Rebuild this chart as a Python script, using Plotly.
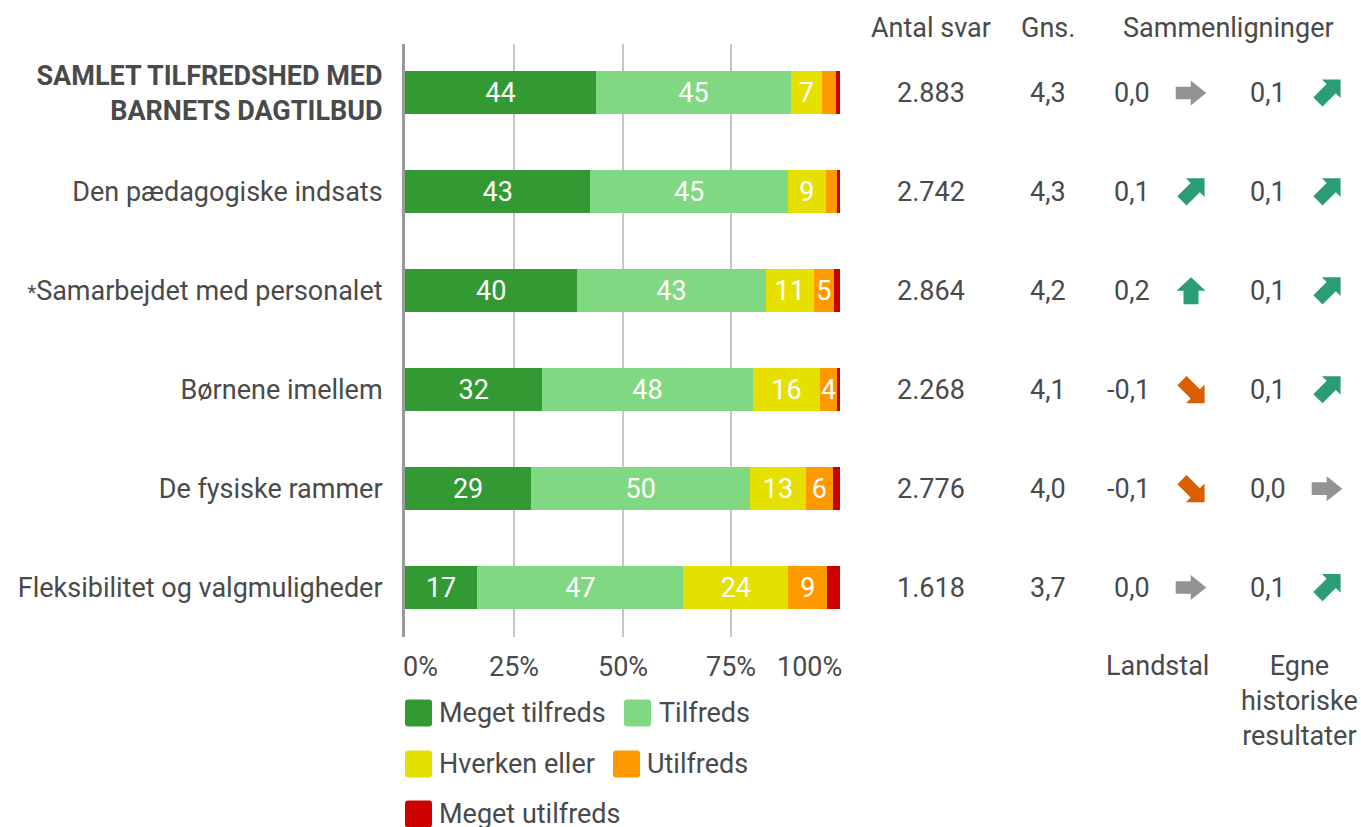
import math
import plotly.graph_objects as go

# ---------------- data ----------------
categories = [
    "SAMLET TILFREDSHED MED BARNETS DAGTILBUD",
    "Den pædagogiske indsats",
    "*Samarbejdet med personalet",
    "Børnene imellem",
    "De fysiske rammer",
    "Fleksibilitet og valgmuligheder",
]
category_ticktext = [
    "<b>SAMLET TILFREDSHED MED<br>BARNETS DAGTILBUD</b>",
    "Den pædagogiske indsats",
    "<span style='font-size:20px'>*</span>Samarbejdet med personalet",
    "Børnene imellem",
    "De fysiske rammer",
    "Fleksibilitet og valgmuligheder",
]
series_names = ["Meget tilfreds", "Tilfreds", "Hverken eller", "Utilfreds", "Meget utilfreds"]
meget_tilfreds = [43.9, 42.6, 39.6, 31.6, 29.0, 16.6]
tilfreds = [44.8, 45.4, 43.3, 48.3, 50.4, 47.4]
hverken_eller = [7.1, 8.8, 11.1, 15.6, 12.7, 24.1]
utilfreds = [3.2, 2.5, 4.6, 3.7, 6.3, 9.0]
meget_utilfreds = [1.0, 0.7, 1.4, 0.8, 1.6, 2.9]

antal_svar = ["2.883", "2.742", "2.864", "2.268", "2.776", "1.618"]
gns = [4.3, 4.3, 4.2, 4.1, 4.0, 3.7]
landstal_diff = [0.0, 0.1, 0.2, -0.1, -0.1, 0.0]
historisk_diff = [0.1, 0.1, 0.1, 0.1, 0.0, 0.1]

x_tickvals = [0, 25, 50, 75, 100]
x_ticktext = ["0%", "25%", "50%", "75%", "100%"]

# ---------------- styling ----------------
W, H = 1361, 827
FONT = "Roboto"
TXT = "#4a4a4a"
colors = ["#339933", "#80d982", "#e6e000", "#ff9900", "#cc0000"]
FS = 27

X0, X1 = 405, 840            # pixel extent of the 0..100 % axis
Y_TOP, Y_BOT = 43.5, 637.0   # pixel extent of the category axis
ydom = [1 - Y_BOT / H, 1 - Y_TOP / H]


def px(xp):
    return xp / W


def fmt(v):
    s = f"{v:.1f}".replace(".", ",")
    if s == "-0,0":
        s = "0,0"
    return s


fig = go.Figure()
series = [meget_tilfreds, tilfreds, hverken_eller, utilfreds, meget_utilfreds]
for name, vals, col in zip(series_names, series, colors):
    fig.add_trace(go.Bar(
        name=name, y=categories, x=vals, orientation="h",
        marker=dict(color=col, line=dict(width=0)),
        text=[str(int(round(v))) if v >= 3.5 else "" for v in vals],
        textposition="inside", insidetextanchor="middle", textangle=0,
        textfont=dict(family=FONT, size=FS, color="white"),
        constraintext="none", showlegend=False, hoverinfo="x+y+name",
    ))

annotations = []
# x tick labels
for v, t in zip(x_tickvals, x_ticktext):
    anchor = "left" if v == x_tickvals[0] else ("right" if v == x_tickvals[-1] else "center")
    xs = -4 if anchor == "left" else (4 if anchor == "right" else 0)
    annotations.append(dict(x=v, y=ydom[0], xref="x", yref="paper", text=t, showarrow=False,
                            xanchor=anchor, yanchor="middle", yshift=-30, xshift=xs,
                            font=dict(family=FONT, size=FS, color=TXT)))

# column headers
for text, xc in [("Antal svar", 931), ("Gns.", 1048), ("Sammenligninger", 1228)]:
    annotations.append(dict(x=px(xc), y=1 - 28 / H, xref="paper", yref="paper", text=text,
                            showarrow=False, xanchor="center", yanchor="middle",
                            font=dict(family=FONT, size=FS, color=TXT)))
# bottom labels
annotations.append(dict(x=px(1157), y=1 - 666 / H, xref="paper", yref="paper", text="Landstal",
                        showarrow=False, xanchor="center", yanchor="middle",
                        font=dict(family=FONT, size=FS, color=TXT)))
annotations.append(dict(x=px(1299), y=1 - 648 / H, xref="paper", yref="paper",
                        text="Egne<br>historiske<br>resultater", align="center",
                        showarrow=False, xanchor="center", yanchor="top",
                        font=dict(family=FONT, size=FS, color=TXT)))

shapes = []

ARROW_RIGHT = [(-15.3, -6.3), (-0.3, -6.3), (-0.3, -12.5), (15.3, 0), (-0.3, 12.5), (-0.3, 6.3), (-15.3, 6.3)]
ARROW_DIAG = [(-12.8, -6.5), (6.0, -6.5), (6.0, -13.2), (19.2, 0), (6.0, 13.2), (6.0, 6.5), (-12.8, 6.5)]
ARROW_UP = [(-13.5, -7.5), (0.0, -7.5), (0.0, -14.5), (13.5, 0), (0.0, 14.5), (0.0, 7.5), (-13.5, 7.5)]


def arrow_shape(xc, cat, value):
    if abs(value) < 0.05:
        ang, col, pts = 0, "#939393", ARROW_RIGHT
    elif value > 0:
        col = "#2a9d74"
        ang, pts = (90, ARROW_UP) if value >= 0.15 else (45, ARROW_DIAG)
    else:
        col = "#d95f02"
        ang, pts = (-90, ARROW_UP) if value <= -0.15 else (-45, ARROW_DIAG)
    a = math.radians(ang)
    rp = [(x * math.cos(a) - y * math.sin(a), x * math.sin(a) + y * math.cos(a)) for x, y in pts]
    path = "M" + " L".join(f"{x:.2f},{y:.2f}" for x, y in rp) + " Z"
    return dict(type="path", xref="paper", yref="y", xsizemode="pixel", ysizemode="pixel",
                xanchor=px(xc), yanchor=cat, path=path, fillcolor=col, line=dict(width=0),
                layer="above")


for i, cat in enumerate(categories):
    annotations.append(dict(x=px(931), y=cat, xref="paper", yref="y", text=antal_svar[i],
                            showarrow=False, xanchor="center", yanchor="middle",
                            font=dict(family=FONT, size=FS, color=TXT)))
    annotations.append(dict(x=px(1048), y=cat, xref="paper", yref="y", text=fmt(gns[i]),
                            showarrow=False, xanchor="center", yanchor="middle",
                            font=dict(family=FONT, size=FS, color=TXT)))
    annotations.append(dict(x=px(1152), y=cat, xref="paper", yref="y", text=fmt(landstal_diff[i]),
                            showarrow=False, xanchor="right", yanchor="middle",
                            font=dict(family=FONT, size=FS, color=TXT)))
    annotations.append(dict(x=px(1288), y=cat, xref="paper", yref="y", text=fmt(historisk_diff[i]),
                            showarrow=False, xanchor="right", yanchor="middle",
                            font=dict(family=FONT, size=FS, color=TXT)))
    shapes.append(arrow_shape(1191, cat, landstal_diff[i]))
    shapes.append(arrow_shape(1327, cat, historisk_diff[i]))

# manual legend (large rounded swatches)
legend_pos = [(405, 439, 713), (624, 659, 713), (405, 439, 764), (613, 647, 764), (405, 439, 814)]
for (sx, tx, cy), name, col in zip(legend_pos, series_names, colors):
    r = 3
    s = 27
    path = (f"M{r},0 L{s - r},0 Q{s},0 {s},{r} L{s},{s - r} Q{s},{s} {s - r},{s} "
            f"L{r},{s} Q0,{s} 0,{s - r} L0,{r} Q0,0 {r},0 Z")
    shapes.append(dict(type="path", xref="paper", yref="paper", xsizemode="pixel", ysizemode="pixel",
                       xanchor=px(sx), yanchor=1 - (cy + 13.5) / H, path=path,
                       fillcolor=col, line=dict(width=0)))
    annotations.append(dict(x=px(tx), y=1 - cy / H, xref="paper", yref="paper", text=name,
                            showarrow=False, xanchor="left", yanchor="middle", xshift=-2,
                            font=dict(family=FONT, size=FS, color=TXT)))

fig.update_layout(
    width=W, height=H,
    margin=dict(l=0, r=0, t=0, b=0),
    barmode="stack", bargap=0.565,
    plot_bgcolor="white", paper_bgcolor="white",
    font=dict(family=FONT, size=FS, color=TXT),
    xaxis=dict(domain=[px(X0), px(X1)], range=[0, 100], tickvals=x_tickvals,
               showticklabels=False, showgrid=True, gridcolor="#c6c6c6", gridwidth=1.5,
               zeroline=False, showline=False, ticks="", fixedrange=True),
    yaxis=dict(domain=ydom, range=[5.5, -0.5], type="category",
               categoryorder="array", categoryarray=categories,
               tickvals=categories, ticktext=category_ticktext,
               showgrid=False, zeroline=False, showline=True, linecolor="#9a9a9a", linewidth=3,
               ticks="", ticklabelstandoff=14,
               tickfont=dict(family=FONT, size=FS, color=TXT), fixedrange=True),
    uniformtext=dict(mode="show", minsize=FS),
    annotations=annotations, shapes=shapes,
    showlegend=False,
)

fig.write_html(
    "out.html",
    config={"displayModeBar": False},
    post_script="document.body.style.margin='0';document.body.style.overflow='hidden';",
)
